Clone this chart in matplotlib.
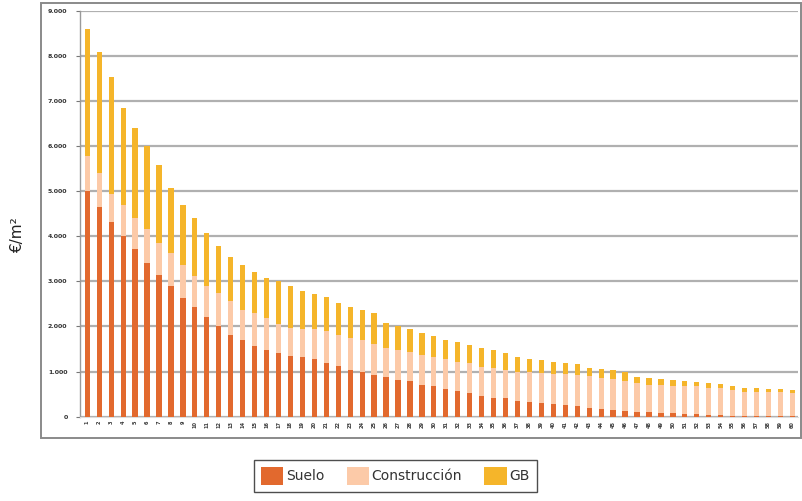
import numpy as np
import matplotlib
matplotlib.use("Agg")
import matplotlib.pyplot as plt
from matplotlib.patches import Patch, Rectangle

# coste por m2 repartido en suelo, construccion y gastos/beneficio (GB)
suelo = [5000, 4650, 4310, 4000, 3720, 3410, 3150, 2900, 2640, 2430,
         2220, 2000, 1820, 1690, 1560, 1480, 1420, 1350, 1320, 1270,
         1200, 1130, 1040, 980, 930, 875, 815, 785, 705, 670,
         610, 560, 520, 460, 415, 410, 350, 320, 300, 275,
         260, 240, 185, 170, 150, 135, 110, 100, 75, 75,
         55, 55, 40, 40, 25, 20, 20, 15, 15, 10]
construccion = [780, 760, 620, 700, 690, 740, 700, 730, 730, 680,
                680, 740, 740, 680, 740, 710, 630, 620, 630, 670,
                700, 690, 700, 720, 690, 645, 665, 655, 665, 660,
                680, 660, 670, 650, 660, 630, 650, 670, 660, 680,
                680, 680, 715, 680, 680, 655, 630, 605, 630, 615,
                615, 615, 605, 590, 570, 535, 535, 525, 525, 525]
gb = [2810, 2680, 2610, 2150, 2000, 1850, 1740, 1450, 1330, 1300,
      1180, 1040, 970, 990, 900, 890, 950, 920, 840, 770,
      750, 710, 700, 670, 670, 550, 520, 510, 490, 450,
      420, 430, 400, 410, 395, 370, 330, 290, 300, 265,
      250, 240, 190, 210, 200, 200, 150, 145, 125, 125,
      120, 95, 95, 95, 75, 75, 75, 75, 70, 60]
municipios = [str(i + 1) for i in range(len(suelo))]
yticks = [0, 1000, 2000, 3000, 4000, 5000, 6000, 7000, 8000, 9000]
ytick_labels = ["0", "1.000", "2.000", "3.000", "4.000", "5.000",
                "6.000", "7.000", "8.000", "9.000"]

c_suelo = "#E2692E"
c_constr = "#FCCAA8"
c_gb = "#F5B52A"

fig = plt.figure(figsize=(8.02, 5.01), dpi=100)

# marco exterior del grafico
fig.patches.append(Rectangle((41 / 802, 1 - 438 / 501), 760 / 802, 435 / 501,
                             transform=fig.transFigure, fill=False,
                             edgecolor="#8a8a8a", linewidth=1.4))

ax = fig.add_axes([80 / 802, 1 - 416.7 / 501, 718 / 802, 406 / 501])

x = np.arange(len(suelo))
s = np.array(suelo)
c = np.array(construccion)
g = np.array(gb)
w = 0.44
ax.bar(x, s, width=w, color=c_suelo, zorder=3)
ax.bar(x, c, width=w, bottom=s, color=c_constr, zorder=3)
ax.bar(x, g, width=w, bottom=s + c, color=c_gb, zorder=3)

ax.set_xlim(-0.61, 59.47)
ax.set_ylim(0, 9000)
ax.set_yticks(yticks)
ax.set_yticklabels(ytick_labels, fontsize=4.5, fontweight="bold", color="#333333")
ax.yaxis.grid(True, color="#b0b0b0", linewidth=1.6, zorder=0)
ax.set_xticks(x)
ax.set_xticklabels(municipios, rotation=90, fontsize=3.6, fontweight="bold",
                   color="#3a3a3a")
ax.tick_params(axis="x", length=0, pad=3)
ax.tick_params(axis="y", length=3, width=0.8, color="#777777", pad=6)

for side in ["top", "right"]:
    ax.spines[side].set_visible(False)
ax.spines["left"].set_color("#9a9a9a")
ax.spines["left"].set_linewidth(1.0)
ax.spines["bottom"].set_color("#dddddd")
ax.spines["bottom"].set_linewidth(0.8)

fig.text(18 / 802, 1 - 235 / 501, "€/m²", rotation=90, fontsize=11,
         ha="center", va="center", color="#222222")

handles = [Patch(facecolor=c_suelo, label="Suelo"),
           Patch(facecolor=c_constr, label="Construcción"),
           Patch(facecolor=c_gb, label="GB")]
leg = fig.legend(handles=handles, loc="center", bbox_to_anchor=(0.493, 0.05),
                 ncol=3, fontsize=10, frameon=True, fancybox=False,
                 edgecolor="#222222", handlelength=1.6, handleheight=1.6,
                 handletextpad=0.2, columnspacing=1.6, borderpad=0.5)
leg.get_frame().set_linewidth(1.0)
for t in leg.get_texts():
    t.set_color("#333333")

fig.savefig("out.png", dpi=100)
